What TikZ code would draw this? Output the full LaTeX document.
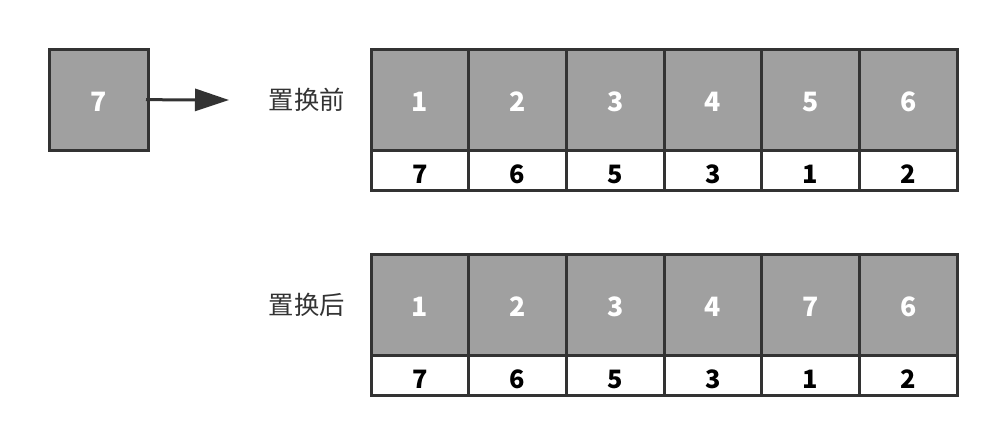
\documentclass[tikz,border=0pt]{standalone}
\usepackage{fontspec}
\setmainfont{Noto Sans CJK SC}
\usetikzlibrary{positioning}
\usetikzlibrary{arrows.meta}
\definecolor{edge}{HTML}{333333}
\definecolor{keygray}{HTML}{A0A0A0}
\tikzset{>={Triangle[length=25.5pt,width=16.5pt]}}
\tikzset{key/.style={draw=edge,fill=keygray,line width=2.25pt,outer sep=0pt,inner sep=0pt,minimum width=73.25pt,minimum height=75.75pt,text height=17.6pt,text depth=0pt,text=white,font=\fontsize{20}{20}\selectfont\bfseries}}
\tikzset{val/.style={draw=edge,fill=white,line width=2.25pt,outer sep=0pt,inner sep=0pt,minimum width=73.25pt,minimum height=30pt,text height=19.9pt,text depth=0pt,font=\fontsize{19}{19}\selectfont\bfseries}}
\tikzset{tag/.style={text=edge,inner sep=0pt,font=\fontsize{19}{19}\selectfont}}

\begin{document}
\begin{tikzpicture}[x=0.75pt,y=-0.75pt]
        \useasboundingbox (0,0) rectangle (1007,444);

        \node[key,minimum width=74.25pt] (new) at (98.5,99.5) {7};
        \coordinate (tip) at (229,100);
        \draw[->,edge,line width=2.25pt,shorten <=-1.5pt] (new) -- (tip);

        % before
        \coordinate (t0) at (371,99.5);
        \foreach \k/\v [count=\i] in {1/7,2/6,3/5,4/3,5/1,6/2} {
            \pgfmathtruncatemacro\j{\i-1}
            \node[key,right=0pt of t\j] (t\i) {\k};
            \node[val,below=0pt of t\i] (tv\i) {\v};
        }
        \node[tag,left=19.5pt of t1] (before) {置换前};

        % after
        \coordinate (b0) at (371,305);
        \foreach \k/\v [count=\i] in {1/7,2/6,3/5,4/3,7/1,6/2} {
            \pgfmathtruncatemacro\j{\i-1}
            \node[key,right=0pt of b\j] (b\i) {\k};
            \node[val,below=0pt of b\i] (bv\i) {\v};
        }
        \node[tag,left=19.5pt of b1] (after) {置换后};

    \end{tikzpicture}
\end{document}
